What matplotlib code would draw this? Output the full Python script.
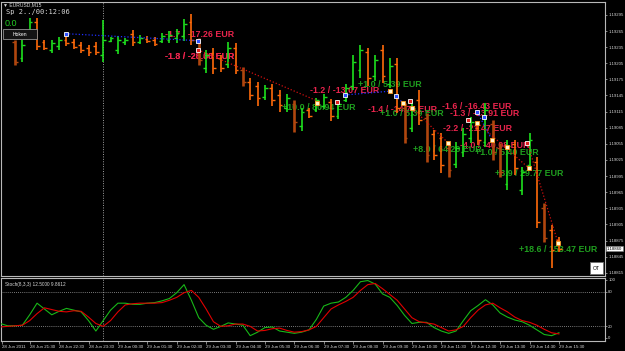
import matplotlib
matplotlib.use("Agg")
import matplotlib.pyplot as plt
from matplotlib.patches import Rectangle
from matplotlib.transforms import blended_transform_factory

# ---------------- data ----------------
bar_index = list(range(75))
opens = [1.19245,1.19215,1.19267,1.19282,1.19245,1.19230,1.19237,1.19248,1.19245,1.19239,
         1.19234,1.19237,1.19220,1.19247,1.19230,1.19245,1.19260,1.19245,1.19250,1.19248,
         1.19247,1.19248,1.19252,1.19256,1.19282,1.19245,1.19196,1.19224,1.19215,1.19204,
         1.19234,1.19193,1.19170,1.19163,1.19142,1.19159,1.19146,1.19122,1.19129,1.19088,
         1.19118,1.19118,1.19125,1.19133,1.19107,1.19137,1.19163,1.19193,1.19226,1.19181,
         1.19230,1.19166,1.19204,1.19122,1.19084,1.19137,1.19103,1.19073,1.19066,1.19047,
         1.19017,1.19040,1.19066,1.19084,1.19058,1.19092,1.19047,1.18980,1.19055,1.18969,
         1.19016,1.19021,1.18935,1.18894,1.18876]
highs = [1.19248,1.19248,1.19289,1.19289,1.19248,1.19248,1.19254,1.19254,1.19250,1.19245,
         1.19239,1.19245,1.19286,1.19254,1.19256,1.19252,1.19267,1.19258,1.19256,1.19254,
         1.19261,1.19265,1.19269,1.19288,1.19297,1.19252,1.19230,1.19234,1.19220,1.19245,
         1.19243,1.19198,1.19178,1.19170,1.19165,1.19166,1.19155,1.19148,1.19137,1.19122,
         1.19122,1.19140,1.19148,1.19139,1.19137,1.19166,1.19220,1.19239,1.19234,1.19220,
         1.19239,1.19215,1.19215,1.19131,1.19137,1.19155,1.19112,1.19081,1.19075,1.19057,
         1.19058,1.19084,1.19105,1.19090,1.19131,1.19099,1.19057,1.19062,1.19062,1.19012,
         1.19075,1.19030,1.18945,1.18904,1.18881]
lows = [1.19202,1.19207,1.19261,1.19230,1.19230,1.19224,1.19230,1.19237,1.19232,1.19224,
        1.19219,1.19220,1.19207,1.19245,1.19222,1.19239,1.19237,1.19241,1.19243,1.19237,
        1.19243,1.19243,1.19243,1.19247,1.19239,1.19202,1.19187,1.19185,1.19189,1.19196,
        1.19185,1.19163,1.19137,1.19125,1.19137,1.19125,1.19114,1.19114,1.19077,1.19079,
        1.19103,1.19114,1.19120,1.19098,1.19101,1.19133,1.19155,1.19178,1.19163,1.19172,
        1.19168,1.19159,1.19112,1.19057,1.19077,1.19090,1.19021,1.19025,1.19001,1.18993,
        1.19010,1.19030,1.19057,1.19053,1.19049,1.19025,1.18993,1.18969,1.18997,1.18960,
        1.19006,1.18898,1.18872,1.18824,1.18853]
closes = [1.19207,1.19239,1.19282,1.19237,1.19234,1.19243,1.19248,1.19243,1.19235,1.19230,
          1.19226,1.19226,1.19248,1.19252,1.19248,1.19248,1.19245,1.19252,1.19247,1.19241,
          1.19256,1.19258,1.19261,1.19278,1.19248,1.19211,1.19220,1.19196,1.19196,1.19234,
          1.19193,1.19170,1.19146,1.19140,1.19159,1.19137,1.19127,1.19140,1.19096,1.19114,
          1.19107,1.19137,1.19142,1.19107,1.19129,1.19159,1.19207,1.19230,1.19178,1.19211,
          1.19181,1.19200,1.19122,1.19066,1.19122,1.19099,1.19034,1.19034,1.19016,1.19006,
          1.19047,1.19073,1.19096,1.19062,1.19118,1.19040,1.19003,1.19051,1.19010,1.19003,
          1.19062,1.18909,1.18880,1.18857,1.18860]
heiken_dark_bars = [0, 25, 31, 38, 53, 56, 59, 65, 66, 72]
current_price = 1.18860

stoch_index = list(range(-2, 75))
stoch_main = [25,21,21,22,40,60,50,40,46,51,48,45,30,12,30,48,60,60,58,58,60,61,64,68,78,92,65,
              35,22,15,20,26,24,22,4,10,18,19,12,10,8,10,14,32,55,60,62,70,82,97,99,93,76,70,
              56,39,25,27,27,18,12,8,12,30,47,56,66,57,43,36,31,28,22,14,6,4,9]
stoch_signal = [19,20,21,22,30,42,52,49,46,45,47,46,36,25,20,30,45,57,59,60,60,60,61,65,70,78,
                82,70,50,28,20,21,24,24,20,12,13,16,17,13,10,11,14,20,35,50,57,63,70,82,92,94,
                85,75,65,50,35,28,26,24,18,12,14,20,35,48,57,60,52,45,36,30,27,22,15,9,7]

price_tick_labels = ['1.19295','1.19265','1.19235','1.19205','1.19175','1.19145','1.19115',
                     '1.19085','1.19055','1.19025','1.18995','1.18965','1.18935','1.18905',
                     '1.18875','1.18845','1.18815']
time_tick_bars = [2,6,10,14,18,22,26,30,34,38,42,46,50,54,58,62,66,70,74]
time_tick_labels = ['28 Jun 21:30','28 Jun 22:30','28 Jun 23:30','29 Jun 00:30','29 Jun 01:30',
                    '29 Jun 02:30','29 Jun 03:30','29 Jun 04:30','29 Jun 05:30','29 Jun 06:30',
                    '29 Jun 07:30','29 Jun 08:30','29 Jun 09:30','29 Jun 10:30','29 Jun 11:30',
                    '29 Jun 12:30','29 Jun 13:30','29 Jun 14:30','29 Jun 15:30']
day_separator_bar = 12

# trade lines: (bar1, price1, bar2, price2, kind)
trade_lines = [(6.9,1.19260,24.9,1.19247,'buy'),
               (24.9,1.19230,41.1,1.19135,'sell'),
               (44.9,1.19146,51.0,1.19153,'buy'),
               (51.8,1.19144,52.8,1.19131,'buy'),
               (54.0,1.19122,58.9,1.19057,'sell'),
               (62.9,1.19114,64.9,1.19062,'buy'),
               (62.9,1.19094,69.9,1.19010,'sell'),
               (69.7,1.19057,73.9,1.18870,'sell')]
# trade arrows: (bar, price, kind)
trade_marks = [(6.9,1.19260,'buy'),(24.9,1.19247,'buy'),(24.9,1.19230,'sell'),
               (41.1,1.19131,'close'),(43.8,1.19133,'sell'),(44.9,1.19146,'buy'),
               (51.0,1.19153,'close'),(51.8,1.19144,'buy'),(52.8,1.19131,'close'),
               (53.7,1.19135,'sell'),(54.0,1.19122,'close'),(58.9,1.19057,'close'),
               (61.6,1.19099,'sell'),(62.9,1.19114,'buy'),(62.9,1.19094,'close'),
               (63.8,1.19105,'buy'),(64.9,1.19062,'close'),(66.9,1.19049,'close'),
               (69.7,1.19057,'sell'),(69.9,1.19010,'close'),(73.9,1.18870,'close')]
# profit labels: (bar, price, text)
loss_labels = [(20.4,1.19258,'-1.7 / -17.26 EUR'),
               (20.4,1.19217,'-1.8 / -28.60 EUR'),
               (20.4,1.19217,'-1.3 / -20.38 EUR'),
               (40.1,1.19155,'-1.2 / -13.07 EUR'),
               (48.0,1.19118,'-1.4 / -14.75 EUR'),
               (58.1,1.19125,'-1.6 / -16.43 EUR'),
               (59.2,1.19112,'-1.3 / -13.91 EUR'),
               (58.2,1.19083,'-2.2 / -21.47 EUR'),
               (60.5,1.19051,'-4.0 / -40.08 EUR')]
gain_labels = [(46.7,1.19165,'+1.0 / 5.39 EUR'),
               (36.3,1.19122,'+10.0 / 80.94 EUR'),
               (49.7,1.19111,'+1.0 / 5.39 EUR'),
               (54.1,1.19044,'+8.0 / 64.20 EUR'),
               (62.6,1.19038,'+1.0 / 5.40 EUR'),
               (65.3,1.18999,'+3.9 / 29.77 EUR'),
               (68.6,1.18859,'+18.6 / 153.47 EUR')]

# ---------------- style ----------------
W, H = 625, 351
UP = '#1ee01e'
DOWN = '#ff6a0a'
DARK = '#b0460e'
FRAME = '#b8b8b8'
TXT = '#d8d8d8'
LOSS = '#e8244c'
GAIN = '#1f9e1f'
SANS = ['Liberation Sans', 'DejaVu Sans']

def px(x, y):
    return x / W, 1 - y / H

fig = plt.figure(figsize=(W / 100, H / 100), dpi=100, facecolor='black')
ax = fig.add_axes([1 / W, 1 - 276 / H, 604 / W, 274 / H], facecolor='black')
ax2 = fig.add_axes([1 / W, 1 - 341 / H, 604 / W, 63 / H], facecolor='black')

xl = (-1.905, 80.27)
for a in (ax, ax2):
    a.set_xlim(*xl)
    for s in a.spines.values():
        s.set_color(FRAME)
        s.set_linewidth(0.8)
    a.yaxis.tick_right()
    a.tick_params(axis='y', colors=FRAME, labelcolor=TXT, labelsize=3.1, length=1.5,
                  width=0.5, pad=0.8)
    a.axvline(day_separator_bar, color='#a0a0a0', ls=(0, (1, 1.5)), lw=0.7, zorder=1)

ax.set_ylim(1.18809, 1.19319)
ax.set_yticks([float(t) for t in price_tick_labels])
ax.set_yticklabels(price_tick_labels, family=SANS)
ax.set_xticks([])

# profit labels (under bars)
for b, p, t in loss_labels:
    ax.text(b, p, t, color=LOSS, fontsize=6.4, fontweight='bold', family=SANS,
            ha='left', va='center', zorder=1.5)
for b, p, t in gain_labels:
    ax.text(b, p, t, color=GAIN, fontsize=6.4, fontweight='bold', family=SANS,
            ha='left', va='center', zorder=1.5)

# OHLC bars
for i, o, h, l, c in zip(bar_index, opens, highs, lows, closes):
    if c > o:
        col, lw = UP, 1.2
    elif i in heiken_dark_bars:
        col, lw = DARK, 1.9
    else:
        col, lw = DOWN, 1.2
    ax.vlines(i, l, h, colors=col, lw=lw, zorder=2)
    ax.hlines(o, i - 0.38, i, colors=col, lw=1.0, zorder=2)
    ax.hlines(c, i, i + 0.38, colors=col, lw=1.0, zorder=2)

# trade lines and marks
for b1, p1, b2, p2, k in trade_lines:
    ax.plot([b1, b2], [p1, p2], color='#2030ff' if k == 'buy' else '#d01010',
            ls=(0, (1, 1.6)), lw=0.9, zorder=2.5)
for b, p, k in trade_marks:
    if k == 'buy':
        fc, ec = '#3050ff', 'white'
    elif k == 'sell':
        fc, ec = '#e02020', 'white'
    else:
        fc, ec = '#fff4d0', '#ff9a20'
    ax.plot(b, p, marker='s', ms=2.8, mfc=fc, mec=ec, mew=0.6, zorder=3)

# current price box
tr = blended_transform_factory(ax.transAxes, ax.transData)
ax.text(1.003, current_price, '1.18860', transform=tr, fontsize=3.1, color='black',
        family=SANS, ha='left', va='center', clip_on=False, zorder=5,
        bbox=dict(boxstyle='square,pad=0.12', fc='white', ec='#808080', lw=0.4))

# stochastic pane
ax2.set_ylim(-5.2, 103.4)
ax2.plot(stoch_index, stoch_main, color='#18b818', lw=0.8, zorder=3)
ax2.plot(stoch_index, stoch_signal, color='#e00000', lw=0.8, zorder=3)
for lvl in (80, 20):
    ax2.axhline(lvl, color='#a0a0a0', ls=(0, (1, 1.5)), lw=0.6, zorder=1)
ax2.set_yticks([100, 80, 20, 0])
ax2.set_yticklabels(['100', '80', '20', '0'], family=SANS)
ax2.set_xticks([xl[0] + 0.12] + time_tick_bars)
ax2.set_xticklabels(['28 Jun 2011'] + time_tick_labels, family=SANS, ha='left')
ax2.tick_params(axis='x', colors=FRAME, labelcolor=TXT, labelsize=3.2, length=2,
                width=0.5, pad=1)
ax2.text(0.006, 0.93, 'Stoch(8,3,3) 12.5000 9.8612', transform=ax2.transAxes,
         fontsize=3.4, color=TXT, family=SANS, ha='left', va='top')

# top-left chart info
x, y = px(3, 5)
fig.text(x, y, '\u25bc EURUSD,M15', fontsize=3.6, color=TXT, family=SANS, va='center')
x, y = px(6, 12)
fig.text(x, y, 'Sp 2../00:12:06', fontsize=5.0, color=TXT, family='DejaVu Sans Mono',
         va='center')
x, y = px(5, 23)
fig.text(x, y, '0.0', fontsize=6.5, color='#22cc22', family=SANS, va='center')

# Hoken button
x0, y0 = px(3, 39)
fig.patches.append(Rectangle((x0, y0), 34 / W, 10 / H, transform=fig.transFigure,
                             facecolor='#141414', edgecolor='#909090', lw=0.6))
x, y = px(20, 34)
fig.text(x, y, 'Hoken', fontsize=3.6, color='white', family=SANS, ha='center', va='center')

# OT button
x0, y0 = px(590, 274)
fig.patches.append(Rectangle((x0, y0), 13 / W, 12 / H, transform=fig.transFigure,
                             facecolor='white', edgecolor='#707070', lw=0.6, zorder=6))
x, y = px(596.5, 268)
fig.text(x, y, 'OT', fontsize=3.6, color='black', family=SANS, ha='center', va='center',
         zorder=7)

fig.savefig('out.png', dpi=100, facecolor='black')
